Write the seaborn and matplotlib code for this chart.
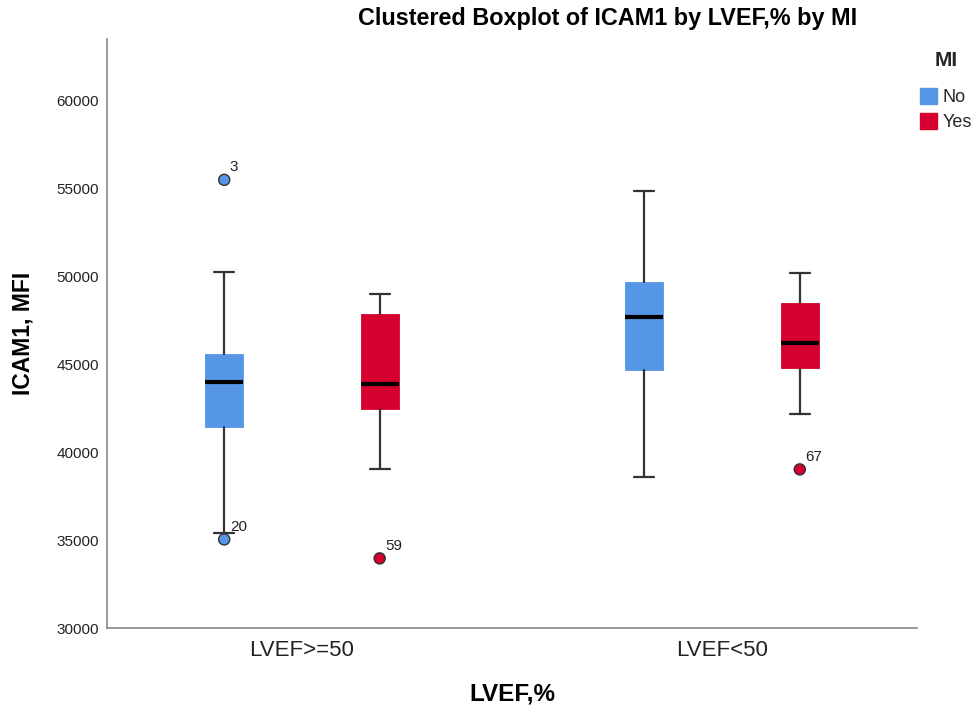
import numpy as np
import pandas as pd
import matplotlib
matplotlib.use("Agg")
import matplotlib.pyplot as plt
from matplotlib.patches import Patch
import seaborn as sns

# LVEF groups on the x axis and MI groups as clusters
categories = ["LVEF>=50", "LVEF<50"]
mi_groups = ["No", "Yes"]

# box summaries (ICAM1, MFI) per LVEF group, MI = No
whislo_no = [35420, 38560]
q1_no = [41440, 44660]
median_no = [43990, 47690]
q3_no = [45570, 49680]
whishi_no = [50230, 54830]

# box summaries (ICAM1, MFI) per LVEF group, MI = Yes
whislo_yes = [39020, 42160]
q1_yes = [42480, 44790]
median_yes = [43850, 46210]
q3_yes = [47880, 48510]
whishi_yes = [48980, 50210]

# flagged outliers with their case numbers
outlier_lvef = ["LVEF>=50", "LVEF>=50", "LVEF>=50", "LVEF<50"]
outlier_mi = ["No", "No", "Yes", "Yes"]
outlier_value = [55490, 35040, 33960, 39020]
outlier_case = [3, 20, 59, 67]

y_ticks = [30000, 35000, 40000, 45000, 50000, 55000, 60000]

sns.set_theme(style="white")
plt.rcParams["font.family"] = ["Liberation Sans", "DejaVu Sans"]

palette = {"No": "#5596e6", "Yes": "#d5002f"}
offsets = {"No": -0.185, "Yes": 0.185}
box_width = 0.09
line_col = "#333333"

fig = plt.figure(figsize=(9.78, 7.09), dpi=100)
ax = fig.add_axes([107 / 978, 81 / 709, 810 / 978, 589 / 709])

summaries = {
    "No": (whislo_no, q1_no, median_no, q3_no, whishi_no),
    "Yes": (whislo_yes, q1_yes, median_yes, q3_yes, whishi_yes),
}
for mi in mi_groups:
    lo, q1, med, q3, hi = summaries[mi]
    stats = [
        dict(whislo=lo[i], q1=q1[i], med=med[i], q3=q3[i], whishi=hi[i], fliers=[])
        for i in range(len(categories))
    ]
    positions = np.arange(len(categories)) + offsets[mi]
    ax.bxp(
        stats,
        positions=positions,
        widths=box_width,
        patch_artist=True,
        showfliers=False,
        manage_ticks=False,
        boxprops=dict(facecolor=palette[mi], edgecolor=palette[mi], linewidth=0.6),
        medianprops=dict(color="black", linewidth=3, solid_capstyle="butt"),
        whiskerprops=dict(color=line_col, linewidth=1.6),
        capprops=dict(color=line_col, linewidth=1.6),
        capwidths=0.048,
    )

out = pd.DataFrame(
    {"LVEF": outlier_lvef, "MI": outlier_mi, "value": outlier_value, "case": outlier_case}
)
cat_pos = {c: i for i, c in enumerate(categories)}
out["x"] = out["LVEF"].map(cat_pos) + out["MI"].map(offsets)
sns.scatterplot(
    data=out, x="x", y="value", hue="MI", palette=palette, s=64,
    edgecolor=line_col, linewidth=1, legend=False, ax=ax, zorder=5,
)
for row in out.itertuples():
    ax.annotate(str(row.case), (row.x, row.value), xytext=(4, 4),
                textcoords="offset points", fontsize=11, color="#222222",
                ha="left", va="bottom")

ax.set_xlim(-0.464, 1.464)
ax.set_ylim(30000, 63500)
ax.set_xticks(range(len(categories)), categories)
ax.set_yticks(y_ticks, [str(v) for v in y_ticks])
ax.tick_params(axis="both", length=0, colors="#222222")
ax.tick_params(axis="y", labelsize=11, pad=6)
ax.tick_params(axis="x", labelsize=16, pad=9)

for side in ["top", "right"]:
    ax.spines[side].set_visible(False)
for side in ["left", "bottom"]:
    ax.spines[side].set_color("#888888")
    ax.spines[side].set_linewidth(1.2)

ax.set_xlabel("LVEF,%", fontsize=17.5, fontweight="bold", color="black")
ax.xaxis.set_label_coords(0.5, -(694 - 628) / 589)
ax.xaxis.label.set_verticalalignment("center")
ax.set_ylabel("ICAM1, MFI", fontsize=16.5, fontweight="bold", color="black")
ax.yaxis.set_label_coords(-(107 - 23) / 810, 0.5)
ax.yaxis.label.set_verticalalignment("center")

fig.text(608 / 978, 1 - 19 / 709, "Clustered Boxplot of ICAM1 by LVEF,% by MI",
         ha="center", va="center", fontsize=16.8, fontweight="bold", color="black")

handles = [Patch(facecolor=palette[m], edgecolor=palette[m], label=m) for m in mi_groups]
fig.legend(
    handles=handles, title="MI", loc="upper left",
    bbox_to_anchor=(920 / 978, 1 - 51 / 709), frameon=False, fontsize=13,
    title_fontproperties={"weight": "bold", "size": 15},
    handlelength=0.95, handleheight=1.0, handletextpad=0.3, labelspacing=0.38,
    borderpad=0, borderaxespad=0,
)
leg = fig.legends[0]
leg._legend_box.sep = 13

fig.savefig("out.png", dpi=100)
